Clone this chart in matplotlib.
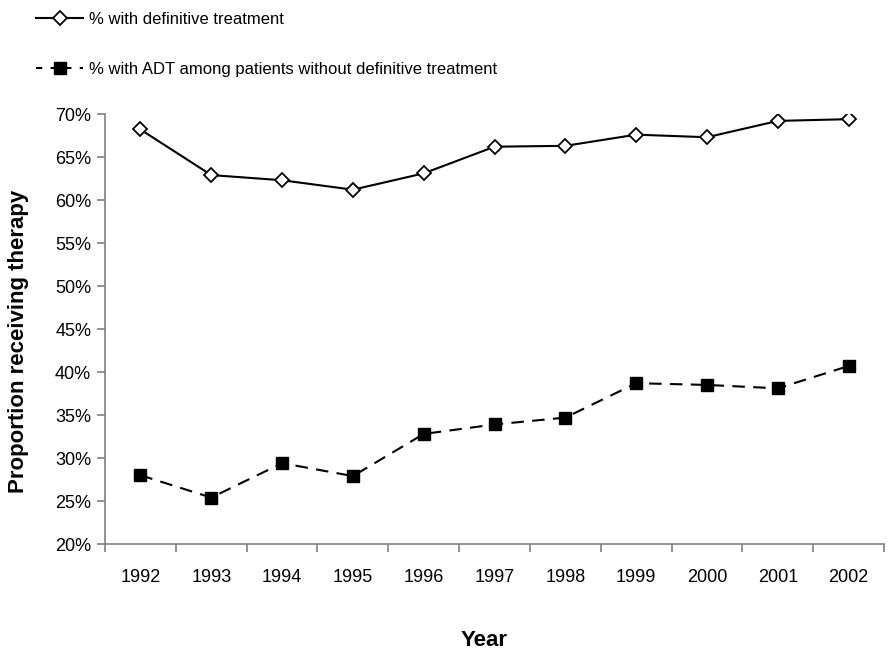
import matplotlib.pyplot as plt
from matplotlib.lines import Line2D
from matplotlib.ticker import FixedLocator, PercentFormatter

plt.rcParams['font.family'] = ['Liberation Sans', 'DejaVu Sans']

years = ['1992', '1993', '1994', '1995', '1996', '1997',
         '1998', '1999', '2000', '2001', '2002']
definitive = [68.2, 62.9, 62.3, 61.2, 63.1, 66.2, 66.3, 67.6, 67.3, 69.2, 69.4]
adt = [28.0, 25.4, 29.4, 27.9, 32.8, 33.9, 34.7, 38.7, 38.5, 38.1, 40.7]

label_def = '% with definitive treatment'
label_adt = '% with ADT among patients without definitive treatment'

fig = plt.figure(figsize=(8.93, 6.56), dpi=100)
ax = fig.add_axes([0.1176, 0.1707, 0.8724, 0.6555])

x = list(range(len(years)))
ax.plot(x, definitive, color='black', lw=1.5, marker='D', ms=7,
        mfc='white', mec='black', mew=1.3)
ax.plot(x, adt, color='black', lw=1.5, ls=(0, (6, 4)), marker='s', ms=8,
        mfc='black', mec='black')

ax.set_xlim(-0.5, len(years) - 0.5)
ax.set_ylim(20, 70)
ax.set_yticks(range(20, 71, 5))
ax.yaxis.set_major_formatter(PercentFormatter(decimals=0))

ax.set_xticks(x)
ax.set_xticklabels(years)
ax.xaxis.set_minor_locator(FixedLocator([i - 0.5 for i in range(len(years) + 1)]))
ax.tick_params(axis='x', which='major', length=0, pad=18, labelsize=13)
ax.tick_params(axis='x', which='minor', length=6, color='#808080', width=1.2)
ax.tick_params(axis='y', length=6, color='#808080', width=1.2, labelsize=13, pad=4)

for side in ['top', 'right']:
    ax.spines[side].set_visible(False)
for side in ['left', 'bottom']:
    ax.spines[side].set_color('#808080')
    ax.spines[side].set_linewidth(1.2)

ax.set_xlabel('Year', fontsize=16, fontweight='bold')
ax.xaxis.set_label_coords(0.487, -0.2)
ax.set_ylabel('Proportion receiving therapy', fontsize=16, fontweight='bold')
ax.yaxis.set_label_coords(-0.097, 0.472)

handles = [
    Line2D([], [], color='black', lw=1.5, marker='D', ms=7, mfc='white', mec='black', mew=1.3),
    Line2D([], [], color='black', lw=1.5, ls=(0, (3, 4)), marker='s', ms=8, mfc='black'),
]
fig.legend(handles, [label_def, label_adt], loc='upper left',
           bbox_to_anchor=(0.024, 1.005), frameon=False, fontsize=12,
           handlelength=2.8, handletextpad=0.35, labelspacing=2.1)

fig.savefig('out.png', dpi=100)
